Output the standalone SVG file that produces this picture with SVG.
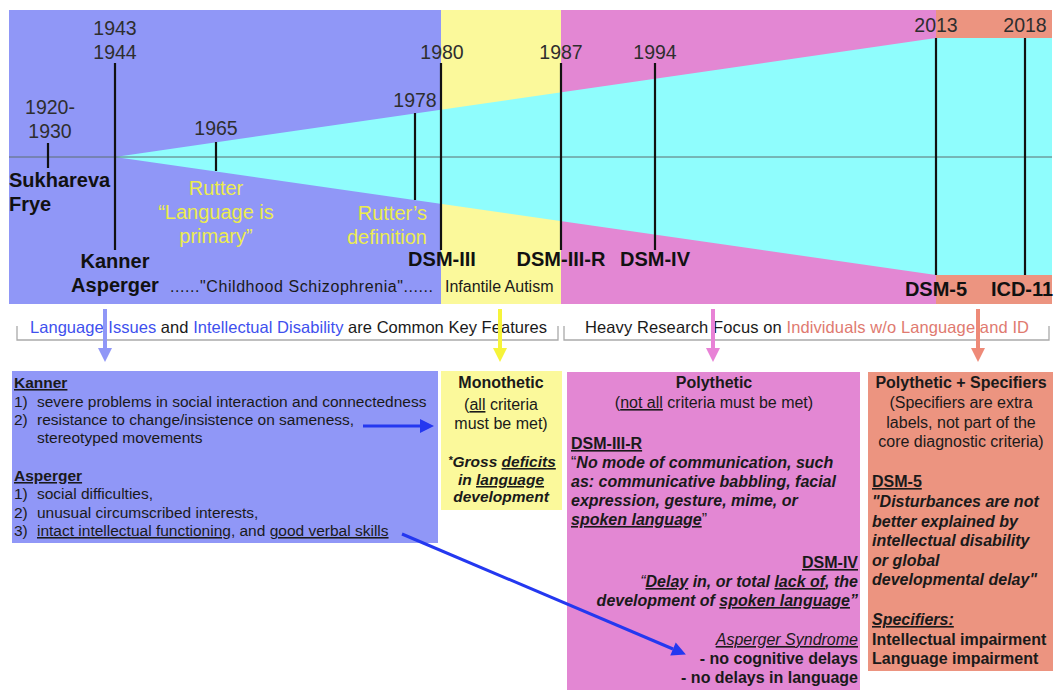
<svg xmlns="http://www.w3.org/2000/svg" width="1056" height="690" viewBox="0 0 1056 690">
<style>
text{font-family:"Liberation Sans",Arial,Helvetica,sans-serif;fill:#1a1a1a}
.yr{font-size:19.5px;fill:#2e2e2e;text-anchor:middle}
.lb{font-size:20px;font-weight:bold;fill:#111}
.mid{text-anchor:middle}
.end{text-anchor:end}
.ry{font-size:20px;fill:#ecec4e;text-anchor:middle}
.tk{stroke:#111;stroke-width:2.2}
.bx{font-size:15.5px}
.t16{font-size:16px}
.hd{font-size:16px;font-weight:bold}
.b{font-weight:bold}
.i{font-style:italic}
.u{text-decoration:underline}
.br{fill:none;stroke:#aaaaaa;stroke-width:1.3}
.cb{fill:#4050ee}
.cs{fill:#e07a70}
</style>
<defs>
<marker id="hBlueL" markerUnits="userSpaceOnUse" viewBox="0 0 10 10" refX="0" refY="5" markerWidth="14" markerHeight="15" orient="auto"><path d="M0,0 L10,5 L0,10 z" fill="#9097f7"/></marker>
<marker id="hYel" markerUnits="userSpaceOnUse" viewBox="0 0 10 10" refX="0" refY="5" markerWidth="14" markerHeight="15" orient="auto"><path d="M0,0 L10,5 L0,10 z" fill="#f6f43a"/></marker>
<marker id="hPink" markerUnits="userSpaceOnUse" viewBox="0 0 10 10" refX="0" refY="5" markerWidth="14" markerHeight="15" orient="auto"><path d="M0,0 L10,5 L0,10 z" fill="#e882d6"/></marker>
<marker id="hSal" markerUnits="userSpaceOnUse" viewBox="0 0 10 10" refX="0" refY="5" markerWidth="14" markerHeight="15" orient="auto"><path d="M0,0 L10,5 L0,10 z" fill="#ee8a78"/></marker>
<marker id="hBlue" markerUnits="userSpaceOnUse" viewBox="0 0 10 10" refX="0" refY="5" markerWidth="15" markerHeight="14" orient="auto"><path d="M0,0 L10,5 L0,10 z" fill="#2438f0"/></marker>
</defs>
<rect width="1056" height="690" fill="#ffffff"/>

<g id="timeline-band">
<rect x="9" y="10" width="432" height="294" fill="#9097f7"/>
<rect x="441" y="10" width="120" height="294" fill="#fbf99b"/>
<rect x="561" y="10" width="375" height="294" fill="#e387d3"/>
<rect x="936" y="10" width="116" height="294" fill="#ec9480"/>
<polygon points="115,157 936,38 1052,38 1052,275 936,275" fill="#8ffdfd"/>
<line x1="9" y1="157" x2="1052" y2="157" stroke="#5c6e70" stroke-width="1"/>
</g>

<g id="ev-1920">
<line class="tk" x1="48" y1="143" x2="48" y2="168"/>
<text class="yr" x="50" y="114">1920-</text>
<text class="yr" x="50" y="138">1930</text>
<text class="lb" x="9" y="187">Sukhareva</text>
<text class="lb" x="9" y="211">Frye</text>
</g>
<g id="ev-1943">
<line class="tk" x1="115" y1="63" x2="115" y2="250"/>
<text class="yr" x="115" y="35">1943</text>
<text class="yr" x="115" y="59">1944</text>
<text class="lb mid" x="115" y="268">Kanner</text>
<text class="lb mid" x="115" y="292">Asperger</text>
<text x="170" y="292" font-size="16" fill="#222" textLength="263">......"Childhood Schizophrenia"......</text>
</g>
<g id="ev-1965">
<line class="tk" x1="216" y1="142" x2="216" y2="171"/>
<text class="yr" x="216" y="135">1965</text>
<text class="ry" x="216" y="195">Rutter</text>
<text class="ry" x="216" y="219">“Language is</text>
<text class="ry" x="216" y="243">primary”</text>
</g>
<g id="ev-1978">
<line class="tk" x1="415" y1="113" x2="415" y2="200"/>
<text class="yr" x="415" y="107">1978</text>
<text class="ry" x="427" y="220" style="text-anchor:end">Rutter’s</text>
<text class="ry" x="427" y="244" style="text-anchor:end">definition</text>
</g>
<g id="ev-1980">
<line class="tk" x1="441" y1="63" x2="441" y2="250"/>
<text class="yr" x="442" y="59">1980</text>
<text class="lb mid" x="442" y="266">DSM-III</text>
<text x="445" y="292" font-size="16" fill="#333">Infantile Autism</text>
</g>
<g id="ev-1987">
<line class="tk" x1="561" y1="63" x2="561" y2="250"/>
<text class="yr" x="561" y="59">1987</text>
<text class="lb mid" x="561" y="266">DSM-III-R</text>
</g>
<g id="ev-1994">
<line class="tk" x1="655" y1="63" x2="655" y2="250"/>
<text class="yr" x="655" y="59">1994</text>
<text class="lb mid" x="655" y="266">DSM-IV</text>
</g>
<g id="ev-2013">
<line class="tk" x1="936" y1="38" x2="936" y2="275"/>
<text class="yr" x="936" y="32">2013</text>
<text class="lb mid" x="936" y="296">DSM-5</text>
</g>
<g id="ev-2018">
<line class="tk" x1="1025" y1="38" x2="1025" y2="275"/>
<text class="yr" x="1025" y="32">2018</text>
<text class="lb mid" x="1022" y="296">ICD-11</text>
</g>

<g id="brace-left">
<path class="br" d="M17,326 V340 H558 V326"/>
<text x="30" y="333" font-size="16.5" textLength="517"><tspan class="cb">Language Issues</tspan> and <tspan class="cb">Intellectual Disability</tspan> are Common Key Features</text>
</g>
<g id="brace-right">
<path class="br" d="M564,326 V340 H1049 V326"/>
<text x="585" y="333" font-size="16.5" textLength="444">Heavy Research Focus on <tspan class="cs">Individuals w/o Language and ID</tspan></text>
</g>

<g id="box-kanner-asperger">
<rect x="12" y="371" width="426" height="172" fill="#9097f7"/>
<text class="bx b" x="14" y="388"><tspan class="u">Kanner</tspan></text>
<text class="bx" x="14" y="407">1)</text><text class="bx" x="37" y="407">severe problems in social interaction and connectedness</text>
<text class="bx" x="14" y="425">2)</text><text class="bx" x="37" y="425">resistance to change/insistence on sameness,</text>
<text class="bx" x="37" y="443">stereotyped movements</text>
<text class="bx b" x="14" y="481"><tspan class="u">Asperger</tspan></text>
<text class="bx" x="14" y="499">1)</text><text class="bx" x="37" y="499">social difficulties,</text>
<text class="bx" x="14" y="518">2)</text><text class="bx" x="37" y="518">unusual circumscribed interests,</text>
<text class="bx" x="14" y="536">3)</text><text class="bx" x="37" y="536"><tspan class="u">intact intellectual functioning</tspan>, and <tspan class="u">good verbal skills</tspan></text>
</g>

<g id="box-monothetic">
<rect x="441" y="371" width="121" height="139" fill="#fbf99b"/>
<text class="hd mid" x="501" y="388">Monothetic</text>
<text class="t16 mid" x="501" y="410">(<tspan class="u">all</tspan> criteria</text>
<text class="t16 mid" x="501" y="429">must be met)</text>
<text class="b i mid" font-size="15.5" x="502" y="467"><tspan font-size="11" dy="-3">*</tspan><tspan dy="3">Gross </tspan><tspan class="u">deficits</tspan></text>
<text class="b i mid" font-size="15.5" x="501" y="485">in <tspan class="u">language</tspan></text>
<text class="b i mid" font-size="15.5" x="501" y="502">development</text>
</g>

<g id="box-polythetic">
<rect x="567" y="372" width="293" height="318" fill="#e387d3"/>
<text class="hd mid" x="714" y="388">Polythetic</text>
<text class="t16 mid" x="714" y="408">(<tspan class="u">not all</tspan> criteria must be met)</text>
<text class="hd" x="571" y="449"><tspan class="u">DSM-III-R</tspan></text>
<text class="t16 b i" x="571" y="468"><tspan font-style="normal" font-weight="normal">“</tspan>No mode of communication, such</text>
<text class="t16 b i" x="571" y="487">as: communicative babbling, facial</text>
<text class="t16 b i" x="571" y="506">expression, gesture, mime, or</text>
<text class="t16 b i" x="571" y="525"><tspan class="u">spoken language</tspan><tspan font-style="normal" font-weight="normal">”</tspan></text>
<text class="hd end" x="858" y="568"><tspan class="u">DSM-IV</tspan></text>
<text class="t16 b i end" x="858" y="587"><tspan font-weight="normal">“</tspan><tspan class="u">Delay</tspan> in, or total <tspan class="u">lack of</tspan>, the</text>
<text class="t16 b i end" x="858" y="606">development of <tspan class="u">spoken language</tspan>”</text>
<text class="t16 i end" x="858" y="645"><tspan class="u">Asperger Syndrome</tspan></text>
<text class="hd end" x="858" y="664">- no cognitive delays</text>
<text class="hd end" x="858" y="683">- no delays in language</text>
</g>

<g id="box-specifiers">
<rect x="868" y="372" width="185" height="299" fill="#ec9480"/>
<text class="hd mid" x="961" y="388">Polythetic + Specifiers</text>
<text class="t16 mid" x="961" y="408">(Specifiers are extra</text>
<text class="t16 mid" x="961" y="428">labels, not part of the</text>
<text class="t16 mid" x="961" y="447">core diagnostic criteria)</text>
<text class="hd" x="872" y="487"><tspan class="u">DSM-5</tspan></text>
<text class="t16 b i" x="872" y="507">"Disturbances are not</text>
<text class="t16 b i" x="872" y="527">better explained by</text>
<text class="t16 b i" x="872" y="546">intellectual disability</text>
<text class="t16 b i" x="872" y="566">or global</text>
<text class="t16 b i" x="872" y="585">developmental delay"</text>
<text class="t16 b i" x="872" y="625"><tspan class="u">Specifiers:</tspan></text>
<text class="hd" x="872" y="645">Intellectual impairment</text>
<text class="hd" x="872" y="664">Language impairment</text>
</g>

<g id="connectors">
<line x1="105" y1="309" x2="105" y2="348" stroke="#9097f7" stroke-width="4" marker-end="url(#hBlueL)"/>
<line x1="500" y1="309" x2="500" y2="348" stroke="#f6f43a" stroke-width="4" marker-end="url(#hYel)"/>
<line x1="713" y1="309" x2="713" y2="348" stroke="#e882d6" stroke-width="4" marker-end="url(#hPink)"/>
<line x1="978" y1="309" x2="978" y2="348" stroke="#ee8a78" stroke-width="4" marker-end="url(#hSal)"/>
<line x1="363" y1="426" x2="420" y2="426" stroke="#2438f0" stroke-width="3" marker-end="url(#hBlue)"/>
<line x1="402" y1="534" x2="673" y2="649" stroke="#2438f0" stroke-width="3" marker-end="url(#hBlue)"/>
</g>
</svg>
